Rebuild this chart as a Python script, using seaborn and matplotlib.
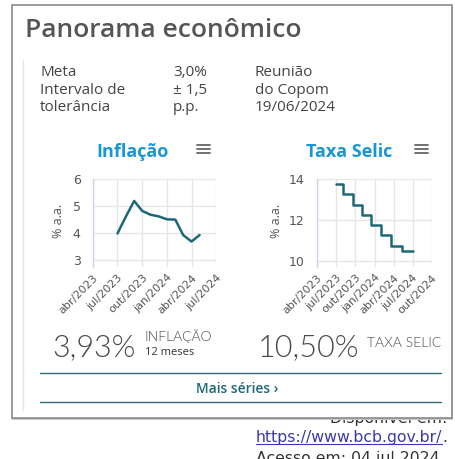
import pandas as pd
import matplotlib.pyplot as plt
import matplotlib.patches as mpatches
import seaborn as sns

# Inflação (IPCA 12 meses, % a.a.)
infl_dates = ['2023-07-01', '2023-08-01', '2023-09-01', '2023-10-01', '2023-11-01', '2023-12-01',
              '2024-01-01', '2024-02-01', '2024-03-01', '2024-04-01', '2024-05-01']
infl_values = [3.99, 4.61, 5.19, 4.82, 4.68, 4.62, 4.51, 4.50, 3.93, 3.69, 3.93]
infl_ticks = ['2023-04-01', '2023-07-01', '2023-10-01', '2024-01-01', '2024-04-01', '2024-07-01']
infl_ticklabels = ['abr/2023', 'jul/2023', 'out/2023', 'jan/2024', 'abr/2024', 'jul/2024']
infl_yticks = [3, 4, 5, 6]

# Taxa Selic (meta, % a.a.)
selic_dates = ['2023-07-01', '2023-08-03', '2023-09-21', '2023-11-02', '2023-12-14',
               '2024-02-01', '2024-03-21', '2024-05-09', '2024-07-01']
selic_values = [13.75, 13.25, 12.75, 12.25, 11.75, 11.25, 10.75, 10.50, 10.50]
selic_ticks = ['2023-04-01', '2023-07-01', '2023-10-01', '2024-01-01', '2024-04-01', '2024-07-01', '2024-10-01']
selic_ticklabels = ['abr/2023', 'jul/2023', 'out/2023', 'jan/2024', 'abr/2024', 'jul/2024', 'out/2024']
selic_yticks = [10, 12, 14]

info_labels = ['Meta', 'Intervalo de', 'tolerância']
info_values = ['3,0%', '± 1,5', 'p.p.']
info_copom = ['Reunião', 'do Copom', '19/06/2024']

sns.set_style('white')
plt.rcParams['font.family'] = ['Open Sans', 'DejaVu Sans']

line_color = '#1d6878'
title_blue = '#1b96d4'
grey = '#555555'

fig = plt.figure(figsize=(4.55, 4.59), dpi=100)

# background axes in pixel coordinates for the card
bg = fig.add_axes([0, 0, 1, 1])
bg.set_xlim(0, 455)
bg.set_ylim(459, 0)
bg.axis('off')

# source text underneath the card (partly hidden)
src_kw = dict(ha='right', va='baseline', fontsize=11.3, family='DejaVu Sans', color='#333333')
bg.text(447, 423.5, 'Disponível em:', zorder=1, **src_kw)
url = bg.text(447, 442, 'https://www.bcb.gov.br/', zorder=1,
              **{**src_kw, 'color': '#3b3ba8', 'ha': 'left'})
dot = bg.text(447, 442, '.', zorder=1, **src_kw)
bg.text(445, 462.5, 'Acesso em: 04 jul 2024.', zorder=1, clip_on=False, **src_kw)

# card
bg.add_patch(mpatches.Rectangle((12, 6), 441, 414, facecolor='#c8c8c8', edgecolor='none', zorder=2))
bg.add_patch(mpatches.Rectangle((12, 5), 440, 413, facecolor='white', edgecolor='#8a8a8a', lw=1.2, zorder=3))
bg.plot([23, 23], [60, 410], color='#e4e4e4', lw=1, zorder=4)

bg.text(25, 37, 'Panorama econômico', fontsize=19, fontweight='semibold', color=grey,
        va='baseline', zorder=5)

for i in range(3):
    y = 76 + i * 17.5
    bg.text(40, y, info_labels[i], fontsize=11, color='#444444', va='baseline', zorder=5)
    bg.text(173, y, info_values[i], fontsize=11, color='#444444', va='baseline', zorder=5)
    bg.text(255, y, info_copom[i], fontsize=11, color='#444444', va='baseline', zorder=5)

# chart titles and menu icons
bg.text(132, 157, 'Inflação', fontsize=13, fontweight='bold', color=title_blue, ha='center', va='baseline', zorder=5)
bg.text(349, 157, 'Taxa Selic', fontsize=13, fontweight='bold', color=title_blue, ha='center', va='baseline', zorder=5)
for x0 in (197, 415):
    for yy in (145, 149, 153):
        bg.plot([x0, x0 + 13], [yy, yy], color='#666666', lw=1.3, zorder=5)

# y axis titles
bg.text(58, 221, '% a.a.', fontsize=9, color=grey, rotation=90, ha='center', va='center', zorder=5)
bg.text(276, 221, '% a.a.', fontsize=9, color=grey, rotation=90, ha='center', va='center', zorder=5)

# big numbers
light_kw = dict(color='#4a4a4a', va='baseline', zorder=5, family=['Lato', 'Open Sans'], fontweight=300)
bg.text(52, 356, '3,93%', fontsize=22, **light_kw)
bg.text(145, 341, 'INFLAÇÃO', fontsize=10, **light_kw)
bg.text(145, 355, '12 meses', fontsize=8, color='#333333', va='baseline', zorder=5)
bg.text(258, 356, '10,50%', fontsize=22, **light_kw)
bg.text(367, 347, 'TAXA SELIC', fontsize=10, **light_kw)

# button
bg.plot([40, 441], [373, 373], color='#2e6b74', lw=1, zorder=5)
bg.plot([40, 441], [402, 402], color='#2e6b74', lw=1, zorder=5)
bg.text(237, 393, 'Mais séries ›', fontsize=10, color='#1e6878', fontweight='semibold',
        ha='center', va='baseline', zorder=5)


def draw_chart(rect, dates, values, ticks, ticklabels, yticks, ylim, steps=False):
    ax = fig.add_axes(rect)
    df = pd.DataFrame({'data': pd.to_datetime(dates), 'valor': values})
    kw = {'drawstyle': 'steps-post'} if steps else {}
    sns.lineplot(data=df, x='data', y='valor', color=line_color, lw=1.8, ax=ax, **kw)
    tick_dates = pd.to_datetime(ticks)
    ax.set_xlim(tick_dates[0], tick_dates[-1])
    ax.set_xticks(tick_dates)
    ax.set_xticklabels(ticklabels, rotation=45, ha='right', rotation_mode='anchor',
                       fontsize=8, color=grey, family='DejaVu Sans')
    ax.set_yticks(yticks)
    ax.set_yticklabels([str(v) for v in yticks], fontsize=9, color=grey, family='DejaVu Sans')
    ax.set_ylim(*ylim)
    ax.grid(True, color='#e6e6e6', lw=1)
    ax.tick_params(length=0, pad=4)
    ax.tick_params(axis='y', pad=9)
    ax.set_xlabel('')
    ax.set_ylabel('')
    for s in ['top', 'right', 'bottom']:
        ax.spines[s].set_visible(False)
    ax.spines['left'].set_color('#ccd6eb')
    ax.spines['left'].set_linewidth(1)
    ax.set_facecolor('none')
    return ax


draw_chart([93 / 455, 1 - 267 / 459, 123 / 455, 88 / 459], infl_dates, infl_values,
           infl_ticks, infl_ticklabels, infl_yticks, (2.75, 6))
draw_chart([317 / 455, 1 - 267 / 459, 115 / 455, 88 / 459], selic_dates, selic_values,
           selic_ticks, selic_ticklabels, selic_yticks, (9.7, 14), steps=True)

# position the url so that the final dot is right aligned, then underline it
fig.canvas.draw()
r = fig.canvas.get_renderer()
inv = bg.transData.inverted()
dot_bb = dot.get_window_extent(r)
url_bb = url.get_window_extent(r)
dot_w = inv.transform((dot_bb.x1, 0))[0] - inv.transform((dot_bb.x0, 0))[0]
url_w = inv.transform((url_bb.x1, 0))[0] - inv.transform((url_bb.x0, 0))[0]
x_start = 447 - dot_w - url_w
url.set_x(x_start)
bg.plot([x_start, x_start + url_w], [444, 444], color='#3b3ba8', lw=0.8, zorder=1)

fig.savefig('out.png', dpi=100)
